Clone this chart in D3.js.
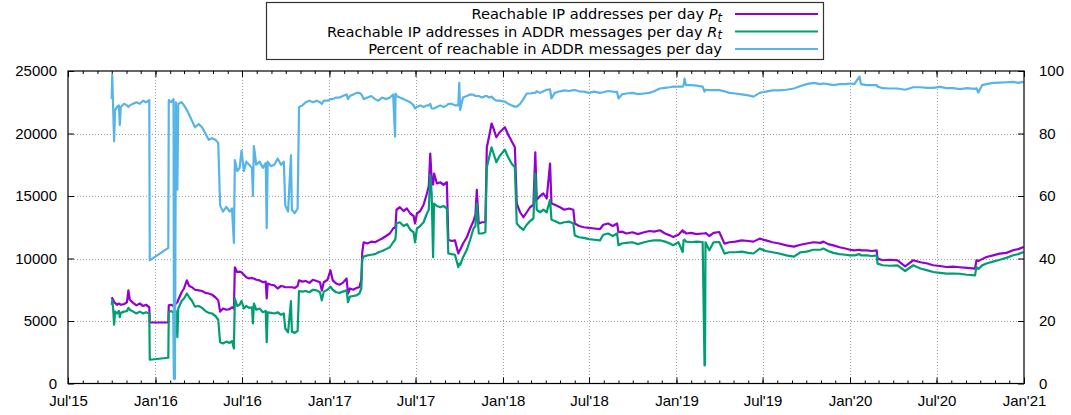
<!DOCTYPE html>
<html>
<head>
<meta charset="utf-8">
<script src="https://cdn.jsdelivr.net/npm/d3@7"></script>
<style>
  body { margin: 0; background: #fff; }
  svg { display: block; font-family: "DejaVu Sans", sans-serif; }
</style>
</head>
<body>
<svg width="1071" height="415"></svg>
<script>
// readings taken off the chart, one entry per date
const days = [
  "2015-10-01","2015-10-02","2015-10-04","2015-10-06","2015-10-08","2015-10-12","2015-10-16","2015-10-18","2015-10-20","2015-10-27",
  "2015-11-02","2015-11-05","2015-11-08","2015-11-15","2015-11-22","2015-11-29","2015-12-06","2015-12-12","2015-12-19",
  "2015-12-20","2016-01-28","2016-01-29","2016-02-03","2016-02-08","2016-02-09","2016-02-11","2016-02-13","2016-02-16","2016-02-18","2016-02-25",
  "2016-03-01","2016-03-07","2016-03-12","2016-03-18","2016-03-24","2016-04-01","2016-04-08","2016-04-15","2016-04-22","2016-04-29",
  "2016-05-06","2016-05-12","2016-05-16","2016-05-22","2016-05-29","2016-06-05","2016-06-10","2016-06-14","2016-06-16","2016-06-21","2016-06-26","2016-06-30",
  "2016-07-05","2016-07-10","2016-07-16","2016-07-22","2016-07-24","2016-07-26","2016-07-31","2016-08-07","2016-08-14","2016-08-20","2016-08-22","2016-08-24","2016-08-31",
  "2016-09-07","2016-09-14","2016-09-21","2016-09-27","2016-09-30","2016-10-06","2016-10-12","2016-10-14","2016-10-20","2016-10-26","2016-10-29",
  "2016-11-05","2016-11-12","2016-11-20","2016-11-27","2016-12-05","2016-12-12","2016-12-16","2016-12-20","2016-12-28",
  "2017-01-03","2017-01-08","2017-01-15","2017-01-22","2017-01-29","2017-02-06","2017-02-09","2017-02-13","2017-02-20","2017-02-27","2017-03-05","2017-03-09",
  "2017-03-11","2017-03-14","2017-03-22","2017-03-30","2017-04-07","2017-04-14","2017-04-22","2017-04-30","2017-05-08","2017-05-15","2017-05-19","2017-05-20",
  "2017-05-22","2017-05-29","2017-06-06","2017-06-13","2017-06-20","2017-06-27","2017-06-30","2017-07-04","2017-07-11","2017-07-18","2017-07-25","2017-07-29",
  "2017-08-01","2017-08-04","2017-08-07","2017-08-09","2017-08-15","2017-08-22","2017-08-29","2017-09-05","2017-09-08","2017-09-15","2017-09-22","2017-09-29",
  "2017-10-01","2017-10-03","2017-10-09","2017-10-17","2017-10-24","2017-10-31","2017-11-04","2017-11-07","2017-11-11","2017-11-18","2017-11-25",
  "2017-11-28","2017-12-03","2017-12-08","2017-12-13","2017-12-18","2017-12-25","2018-01-05","2018-01-12","2018-01-19","2018-01-26","2018-01-30",
  "2018-02-06","2018-02-13","2018-02-20","2018-02-27","2018-03-06","2018-03-10","2018-03-13","2018-03-20","2018-03-27","2018-04-03","2018-04-10","2018-04-13","2018-04-20",
  "2018-05-01","2018-05-10","2018-05-20","2018-05-29","2018-06-01","2018-06-10","2018-06-20","2018-07-01","2018-07-12","2018-07-24","2018-07-31","2018-08-10","2018-08-20","2018-08-29",
  "2018-09-01","2018-09-08","2018-09-18","2018-09-30","2018-10-12","2018-10-25","2018-11-05","2018-11-15","2018-11-27","2018-12-08","2018-12-18","2018-12-25",
  "2019-01-05","2019-01-14","2019-01-16","2019-01-18","2019-01-21","2019-02-01","2019-02-12","2019-02-25","2019-03-01","2019-03-02","2019-03-03","2019-03-11","2019-03-20","2019-04-01","2019-04-12",
  "2019-04-22","2019-05-05","2019-05-18","2019-06-01","2019-06-12","2019-06-25","2019-07-08","2019-07-22","2019-08-05","2019-08-20","2019-09-05","2019-09-19","2019-10-02","2019-10-16","2019-10-31",
  "2019-11-06","2019-11-16","2019-11-27","2019-12-10","2019-12-22","2020-01-01","2020-01-10","2020-01-21","2020-01-24","2020-02-05","2020-02-16","2020-02-26","2020-02-28",
  "2020-03-10","2020-03-25","2020-04-10","2020-04-26","2020-05-13","2020-05-28","2020-06-12","2020-06-24","2020-07-08","2020-07-22","2020-08-05","2020-08-19","2020-09-03","2020-09-20",
  "2020-09-23","2020-09-27","2020-10-05","2020-10-14","2020-10-28","2020-11-11","2020-11-25","2020-12-09","2020-12-20","2020-12-31"
];

// P_t : reachable IP addresses per day
const reachable = [
  6900,6800,6700,6500,6450,6300,6400,6350,6300,6350,
  6500,7450,6700,6450,6250,6400,6200,6300,6100,
  4880,4880,6250,6300,6200,6250,6300,6400,6500,6700,7300,
  7600,8250,7800,7700,7500,7450,7400,7250,7200,7100,
  6900,6650,5750,6000,5900,5950,6100,6000,9300,8900,8950,8900,
  8700,8500,8400,8450,8400,8400,8300,8250,8100,8150,6800,8000,7900,
  7850,7600,7800,7750,7700,7700,7700,7700,7650,7800,8250,
  8150,8200,8050,8300,8200,8100,7450,8100,8300,
  9050,8250,8000,7900,8050,8400,7200,7600,7500,7650,7700,8300,
  10500,11300,11200,11350,11300,11450,11600,11800,12000,12400,12500,12600,
  13900,14100,13800,14000,13600,13400,12800,13600,13800,14300,15200,15800,
  18400,16300,15900,16800,16000,16100,15900,16100,11500,11400,11450,10400,
  10600,10700,11200,11700,12400,13000,13500,15500,12800,12900,12900,
  18900,19800,20800,20300,19700,20100,20500,19900,19400,18900,14400,
  13700,13300,13700,14100,14300,18500,14700,15000,15200,14800,17600,14400,14300,
  14100,13900,14000,13900,12800,12600,12500,12450,12400,12350,12700,12800,12600,12800,
  12100,12150,12000,12100,11950,12100,12200,12150,12260,12000,11850,11720,
  11900,12260,12100,12150,12000,12050,11950,12000,12000,12000,12050,11800,12050,12120,11190,
  11300,11350,11450,11400,11350,11590,11450,11300,11200,11050,10950,11100,11200,11300,11250,
  11350,11150,11050,10900,10800,10700,10650,10700,10650,10650,10600,10650,9990,
  9860,9900,9850,9370,9860,9700,9600,9460,9400,9320,9350,9300,9250,9190,
  9860,9800,9950,10120,10250,10390,10450,10660,10750,10920
];

// R_t : reachable IP addresses seen in ADDR messages per day
const inAddr = [
  6300,6650,6000,4700,5750,5600,5800,5300,5650,5750,
  5800,6050,5900,5750,5600,5750,5600,5700,5600,
  1900,2060,5710,5800,5650,400,5750,5800,3700,6000,6600,
  6800,7200,6900,6600,6150,6200,6050,5800,5650,5600,
  5400,5100,3300,3200,3350,3250,3400,2800,6800,6200,6300,6600,
  6000,6200,6050,6100,4800,6400,5900,6000,5700,5800,3300,5700,5650,
  5600,5700,5500,5600,4400,4100,6600,4150,4050,4200,7400,
  7350,7400,7300,7500,7450,7300,6650,7350,7500,
  7750,7500,7300,7250,7350,7450,6500,6950,7000,7050,7200,7600,
  9900,10150,10250,10300,10350,10500,10600,10750,10900,11300,11500,11600,
  12800,12900,12600,12750,12300,12100,11300,12400,12600,12900,13600,13900,
  16700,15200,10100,14400,14200,14100,14200,14000,10400,10350,10300,9300,
  9600,9500,10100,10700,11500,12400,12600,14400,12000,12000,12100,
  17300,18100,18900,18300,17700,18200,18700,18100,17600,17300,12800,
  12500,12300,12700,13000,13200,16800,13900,13700,13900,13700,14700,13100,13000,
  12800,12900,12950,12800,11850,11700,11650,11550,11500,11450,11900,12000,11800,12000,
  11060,11200,11250,11300,11150,11300,11400,11450,11460,11350,11200,11060,
  11300,10520,11450,11500,11350,11300,11350,11320,1440,1500,11300,10660,11300,11320,10390,
  10500,10500,10550,10450,10400,10790,10600,10500,10400,10250,10150,10500,10550,10700,10700,
  10800,10600,10450,10350,10300,10250,10250,10350,10250,10250,10200,10250,9590,
  9460,9420,9450,9000,9460,9200,9050,8920,8850,8790,8800,8780,8700,8650,
  9320,9150,9450,9600,9750,9900,10050,10260,10350,10520
];

// percent of reachable in ADDR messages (right axis)
const percent = [
  91,98.7,88,77.5,87.5,88.5,89,82.7,88.5,89.5,
  89,88.5,89,89.5,90,89.5,90.5,90,90.7,
  39.4,43.4,90.7,90,91,2,1.5,90,62,89.5,90,
  89,87.5,86,84,82,83,82,80,78,78.5,
  78,77,57,55,56.5,55,56,45,71.5,68,69,74.5,
  68,71,70,69,60,76,70,71,69,70.5,49.7,71,69.5,
  70,72,70,71,57,55,73,55.5,54.5,56,88.5,
  89,90,90.5,90,90.5,90,89.5,90.5,90.5,
  91,91,91.5,91.5,92,92.5,91,92,92.5,93,93,92.5,
  92,91,91.5,92,91,90.5,91.5,91,91.5,92.5,79,92.8,
  92,91.5,91,90.5,90,89,88,88.5,89,88.5,89,89,
  89.5,88,88,88,88.5,89,88.5,89,89.5,89.5,89,89,
  96.2,87.5,91.5,92,92.5,92.4,92,92,92,91.5,92,
  92,91.5,91.8,91,90.5,90.5,90.2,89.5,89,88.6,88.6,
  89.5,91,92.8,92.8,93,93,93.5,93,93.5,94,94.1,91.2,93,
  93.5,93.8,93.6,93.9,93.9,93.5,93.4,93,93.4,93,93.2,93.6,93.4,93.3,
  91.2,92.5,92.8,93,92.6,92.8,93,93.5,94.4,94.6,94.8,95,
  95,95,95.5,97.6,95.5,95.5,95.3,95,93.4,94,94,93.9,93.9,93.9,93.5,
  93,92.8,92.5,92.2,91.8,93,93.4,93.8,93.8,94,94.4,95.2,95.8,96.2,95.8,
  96,95.8,95.5,95.8,95.8,96,95.8,98.2,95.8,95.5,95.5,95.5,95,
  94.5,94.4,94.4,94,94.8,94.8,94.6,94.6,94.9,94.5,94.5,94.2,94.5,94.3,
  94.5,93.1,95.5,95.8,96.2,96.3,96.4,96.5,96.2,96.5
];

const countTicks = [0, 5000, 10000, 15000, 20000, 25000];
const percentTicks = [0, 20, 40, 60, 80, 100];
const legendLabels = [
  ["Reachable IP addresses per day ", "P"],
  ["Reachable IP addresses in ADDR messages per day ", "R"],
  ["Percent of reachable in ADDR messages per day", null]
];
const colors = ["#9400d3", "#009e73", "#56b4e9"];

if (days.length !== reachable.length || days.length !== inAddr.length || days.length !== percent.length) {
  console.warn("length mismatch", days.length, reachable.length, inAddr.length, percent.length);
}

const parse = d3.utcParse("%Y-%m-%d");
const data = days.map((d, i) => ({ date: parse(d), p: reachable[i], r: inAddr[i], pct: percent[i] }));

const svg = d3.select("svg");
const plotLeft = 68, plotRight = 1024, plotTop = 71, plotBottom = 383.5;

const x = d3.scaleUtc()
  .domain([Date.UTC(2015, 6, 1), Date.UTC(2021, 0, 1)])
  .range([plotLeft, plotRight]);
const y = d3.scaleLinear().domain([0, 25000]).range([plotBottom, plotTop]);
const y2 = d3.scaleLinear().domain([0, 100]).range([plotBottom, plotTop]);

const halfYears = d3.utcMonth.every(6).range(new Date(Date.UTC(2015, 6, 1)), new Date(Date.UTC(2021, 0, 2)));
const months = d3.utcMonth.range(new Date(Date.UTC(2015, 6, 1)), new Date(Date.UTC(2021, 0, 2)));

// dotted grid
const grid = svg.append("g")
  .attr("stroke", "#a0a0a0")
  .attr("stroke-width", 1)
  .attr("stroke-dasharray", "1,2");
grid.selectAll("line.h")
  .data(countTicks.slice(1, -1))
  .enter().append("line")
  .attr("x1", plotLeft).attr("x2", plotRight)
  .attr("y1", d => Math.round(y(d)) + 0.5).attr("y2", d => Math.round(y(d)) + 0.5);
grid.selectAll("line.v")
  .data(halfYears.slice(1, -1))
  .enter().append("line")
  .attr("y1", plotTop).attr("y2", plotBottom)
  .attr("x1", d => Math.round(x(d)) + 0.5).attr("x2", d => Math.round(x(d)) + 0.5);

// series
const lines = [
  d3.line().x(d => x(d.date)).y(d => y(d.p)),
  d3.line().x(d => x(d.date)).y(d => y(d.r)),
  d3.line().x(d => x(d.date)).y(d => y2(d.pct))
];
lines.forEach((ln, i) => {
  svg.append("path")
    .datum(data)
    .attr("fill", "none")
    .attr("stroke", colors[i])
    .attr("stroke-width", 2.2)
    .attr("stroke-linejoin", "round")
    .attr("d", ln);
});

// axes, ticks pointing inwards like gnuplot
function styleAxis(g) {
  g.select(".domain").remove();
  g.selectAll("line").attr("stroke", "#000");
  g.selectAll("text").attr("fill", "#000").attr("font-size", 15);
}

svg.append("g")
  .attr("transform", `translate(0,${plotBottom})`)
  .call(d3.axisBottom(x).tickValues(months).tickSize(-3).tickFormat(""))
  .call(styleAxis);
svg.append("g")
  .attr("transform", `translate(0,${plotBottom})`)
  .call(d3.axisBottom(x).tickValues(halfYears).tickSize(-6).tickPadding(12)
    .tickFormat(d3.utcFormat("%b'%y")))
  .call(styleAxis);
svg.append("g")
  .attr("transform", `translate(0,${plotTop})`)
  .call(d3.axisTop(x).tickValues(months).tickSize(-3).tickFormat(""))
  .call(styleAxis);
svg.append("g")
  .attr("transform", `translate(0,${plotTop})`)
  .call(d3.axisTop(x).tickValues(halfYears).tickSize(-6).tickFormat(""))
  .call(styleAxis);

svg.append("g")
  .attr("transform", `translate(${plotLeft},0)`)
  .call(d3.axisLeft(y).tickValues(countTicks).tickSize(-6).tickPadding(11).tickFormat(d3.format("d")))
  .call(styleAxis);
svg.append("g")
  .attr("transform", `translate(${plotRight},0)`)
  .call(d3.axisRight(y2).tickValues(percentTicks).tickSize(-6).tickPadding(15).tickFormat(d3.format("d")))
  .call(styleAxis);

// frame
svg.append("rect")
  .attr("x", plotLeft).attr("y", plotTop)
  .attr("width", plotRight - plotLeft).attr("height", plotBottom - plotTop)
  .attr("fill", "none").attr("stroke", "#000").attr("stroke-width", 1.2);

// legend
const legend = svg.append("g");
legend.append("rect")
  .attr("x", 266.5).attr("y", 2.5).attr("width", 557).attr("height", 57)
  .attr("fill", "#fff").attr("stroke", "#333").attr("stroke-width", 1.2);

legendLabels.forEach((lab, i) => {
  const cy = 14 + i * 17.5;
  const t = legend.append("text")
    .attr("x", 722).attr("y", cy).attr("dy", "0.35em")
    .attr("text-anchor", "end").attr("font-size", 14.6).attr("fill", "#000");
  t.append("tspan").text(lab[0]);
  if (lab[1]) {
    t.append("tspan").attr("font-style", "italic").text(lab[1]);
    t.append("tspan").attr("font-style", "italic").attr("font-size", 11.5).attr("dy", "0.22em").text("t");
  }
  legend.append("line")
    .attr("x1", 735).attr("x2", 818)
    .attr("y1", cy).attr("y2", cy)
    .attr("stroke", colors[i]).attr("stroke-width", 2);
});
</script>
</body>
</html>
